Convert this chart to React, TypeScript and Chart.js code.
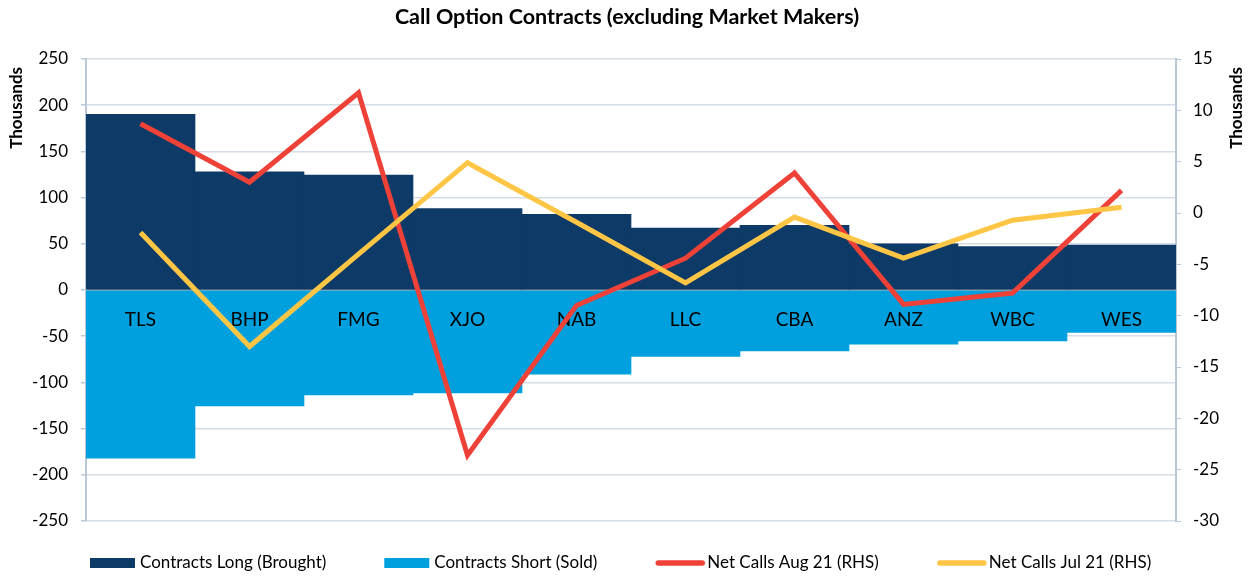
import React, { useEffect, useRef } from "react";
import { Chart, registerables } from "chart.js";

Chart.register(...registerables);

const categories = ["TLS", "BHP", "FMG", "XJO", "NAB", "LLC", "CBA", "ANZ", "WBC", "WES"];
const contractsLong = [190, 128, 124.5, 88, 82, 67, 70, 50, 47, 48.5];
const contractsShort = [-182, -125.5, -113.5, -111.5, -91, -72, -66, -58.5, -55, -46];
const netCallsAug = [8.7, 3.0, 11.7, -23.6, -9.0, -4.4, 3.9, -8.9, -7.8, 2.2];
const netCallsJul = [-1.9, -13.0, -4.0, 4.9, -0.9, -6.8, -0.4, -4.4, -0.7, 0.55];
const leftTicks = [-250, -200, -150, -100, -50, 0, 50, 100, 150, 200, 250];
const rightTicks = [-30, -25, -20, -15, -10, -5, 0, 5, 10, 15];
const axisTitle = "Thousands";

const FONT = "Lato, 'Open Sans', sans-serif";
const NAVY = "#0E3A68";
const SKY = "#00A0DF";
const RED = "#EE4137";
const YELLOW = "#FFC545";
const GRID = "#D5DDE7";
const AXIS = "#B9C8D9";

const decorPlugin = {
  id: "decor",
  beforeDraw(chart: any) {
    chart.$labelsDrawn = false;
  },
  beforeDatasetDraw(chart: any, args: any) {
    if (chart.$labelsDrawn) return;
    const ds = chart.data.datasets[args.index];
    if (ds.type !== "line") return;
    chart.$labelsDrawn = true;
    const { ctx } = chart;
    const xs = chart.scales.x;
    const y0 = chart.scales.y.getPixelForValue(0);
    ctx.save();
    ctx.fillStyle = "#000";
    ctx.font = `19px ${FONT}`;
    ctx.textAlign = "center";
    ctx.textBaseline = "middle";
    chart.data.labels.forEach((lab: string, i: number) => {
      ctx.fillText(lab, xs.getPixelForValue(i), y0 + 30);
    });
    ctx.restore();
  },
  afterDraw(chart: any) {
    const { ctx } = chart;
    ctx.save();
    // axis titles (both read bottom-to-top)
    ctx.fillStyle = "#000";
    ctx.font = `bold 17px ${FONT}`;
    ctx.textAlign = "right";
    ctx.textBaseline = "middle";
    const top = chart.chartArea.top + 8;
    [17, 1237].forEach((x) => {
      ctx.save();
      ctx.translate(x, top);
      ctx.rotate(-Math.PI / 2);
      ctx.fillText(axisTitle, 0, 0);
      ctx.restore();
    });
    // legend: sequential items with equal gaps
    const ly = 563;
    let x = chart.chartArea.left + 4;
    ctx.font = `17px ${FONT}`;
    ctx.textAlign = "left";
    chart.data.datasets.forEach((ds: any) => {
      let tx: number;
      if (ds.type === "line") {
        ctx.strokeStyle = ds.borderColor;
        ctx.lineWidth = 5.5;
        ctx.lineCap = "round";
        ctx.beginPath();
        ctx.moveTo(x + 3, ly);
        ctx.lineTo(x + 47, ly);
        ctx.stroke();
        tx = x + 52;
      } else {
        ctx.fillStyle = ds.backgroundColor;
        ctx.fillRect(x, ly - 5, 45, 10);
        tx = x + 50;
      }
      ctx.fillStyle = "#000";
      ctx.fillText(ds.label, tx, ly);
      x = tx + ctx.measureText(ds.label).width + 58;
    });
    ctx.restore();
  },
};

export default function App() {
  const ref = useRef<HTMLCanvasElement | null>(null);

  useEffect(() => {
    if (!ref.current) return;
    const chart = new Chart(ref.current, {
      type: "bar",
      data: {
        labels: categories,
        datasets: [
          {
            type: "bar",
            label: "Contracts Long (Brought)",
            data: contractsLong,
            backgroundColor: NAVY,
            yAxisID: "y",
            grouped: false,
            barPercentage: 1,
            categoryPercentage: 1,
            order: 2,
          } as any,
          {
            type: "bar",
            label: "Contracts Short (Sold)",
            data: contractsShort,
            backgroundColor: SKY,
            yAxisID: "y",
            grouped: false,
            barPercentage: 1,
            categoryPercentage: 1,
            order: 2,
          } as any,
          {
            type: "line",
            label: "Net Calls Aug 21 (RHS)",
            data: netCallsAug,
            borderColor: RED,
            backgroundColor: RED,
            borderWidth: 5,
            pointRadius: 0,
            tension: 0,
            yAxisID: "y1",
            order: 1,
          } as any,
          {
            type: "line",
            label: "Net Calls Jul 21 (RHS)",
            data: netCallsJul,
            borderColor: YELLOW,
            backgroundColor: YELLOW,
            borderWidth: 5,
            pointRadius: 0,
            tension: 0,
            yAxisID: "y1",
            order: 0,
          } as any,
        ],
      },
      options: {
        responsive: false,
        animation: false,
        layout: { padding: { left: 0, right: 0, top: 0, bottom: 56 } },
        plugins: {
          title: {
            display: true,
            text: "Call Option Contracts (excluding Market Makers)",
            color: "#000",
            font: { family: FONT, size: 21.5, weight: "bold" },
            padding: { top: 4.1, bottom: 29.1 },
          },
          tooltip: { enabled: false },
          legend: { display: false },
        },
        scales: {
          x: {
            type: "category",
            position: { y: 0 } as any,
            offset: true,
            z: 1,
            grid: {
              display: true,
              drawOnChartArea: false,
              drawTicks: true,
              tickLength: 5,
              color: "#8A8A8A",
              offset: true,
            },
            border: { display: true, color: "#8A8A8A", width: 1.5 },
            ticks: {
              color: "rgba(0,0,0,0)",
              padding: 10,
              font: { family: FONT, size: 19 },
              maxRotation: 0,
            },
          },
          y: {
            type: "linear",
            position: "left",
            min: -250,
            max: 250,
            afterBuildTicks: (s: any) => {
              s.ticks = leftTicks.map((v) => ({ value: v }));
            },
            afterFit: (s: any) => {
              s.width = 86;
            },
            grid: {
              color: GRID,
              lineWidth: 1.5,
              tickLength: 5,
              tickColor: AXIS,
            },
            border: { display: true, color: AXIS, width: 2 },
            ticks: {
              color: "#000",
              padding: 13,
              font: { family: FONT, size: 17 },
            },
          },
          y1: {
            type: "linear",
            position: "right",
            min: -30,
            max: 15,
            afterBuildTicks: (s: any) => {
              s.ticks = rightTicks.map((v) => ({ value: v }));
            },
            afterFit: (s: any) => {
              s.width = 78;
            },
            grid: {
              drawOnChartArea: false,
              tickLength: 5,
              color: AXIS,
            },
            border: { display: true, color: AXIS, width: 2 },
            ticks: {
              color: "#000",
              padding: 12,
              font: { family: FONT, size: 17 },
            },
          },
        },
      },
      plugins: [decorPlugin],
    });
    return () => chart.destroy();
  }, []);

  return (
    <div style={{ position: "fixed", left: 0, top: 0, width: 1254, height: 577, background: "#fff" }}>
      <canvas ref={ref} width={1254} height={577} style={{ width: 1254, height: 577 }} />
    </div>
  );
}
